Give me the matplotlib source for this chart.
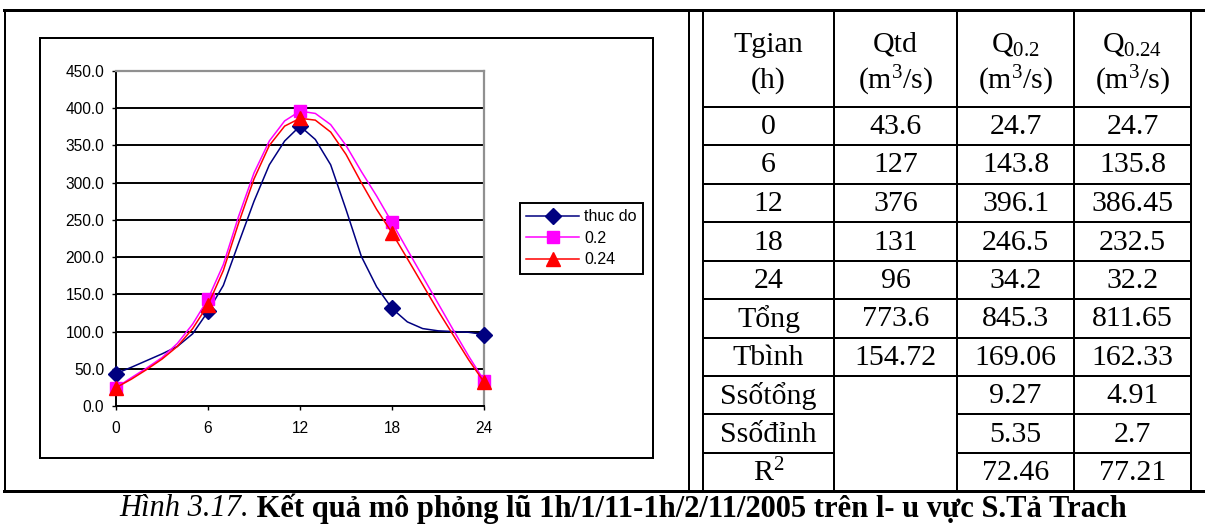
import matplotlib
matplotlib.use('Agg')
import matplotlib.pyplot as plt
from matplotlib.lines import Line2D

# Du lieu doc tu hinh (gio, luu luong m3/s)
hours = list(range(25))
thuc_do = [43.6, 52, 61, 70, 80, 97, 127, 162, 219, 275, 324, 356, 376,
           358, 324, 264, 201, 160, 131, 113, 104, 101, 100, 99, 96]
q_02 = [24.7, 38, 51, 65, 84, 110, 143.8, 190, 255, 313, 356, 383, 396.1,
        393, 378, 350, 315, 282, 246.5, 210, 174, 138, 102, 67, 34.2]
q_024 = [24.7, 36, 49, 63, 80, 104, 135.8, 182, 246, 305, 350, 376, 386.45,
         384, 368, 338, 300, 264, 232.5, 198, 163, 128, 95, 62, 32.2]
series_labels = ['thuc do', '0.2', '0.24']
x_ticks = [0, 6, 12, 18, 24]
y_ticks = [0, 50, 100, 150, 200, 250, 300, 350, 400, 450]

header_top = ['Tgian', 'Qtd', r'$\mathregular{Q_{0.2}}$', r'$\mathregular{Q_{0.24}}$']
header_bottom = ['(h)', r'$\mathregular{(m^3/s)}$', r'$\mathregular{(m^3/s)}$', r'$\mathregular{(m^3/s)}$']
row_labels = ['0', '6', '12', '18', '24', 'Tổng', 'Tbình', 'Ssốtổng', 'Ssốđỉnh',
              r'$\mathregular{R^2}$']
col_qtd = ['43.6', '127', '376', '131', '96', '773.6', '154.72', '', '', '']
col_q02 = ['24.7', '143.8', '396.1', '246.5', '34.2', '845.3', '169.06', '9.27', '5.35', '72.46']
col_q024 = ['24.7', '135.8', '386.45', '232.5', '32.2', '811.65', '162.33', '4.91', '2.7', '77.21']

caption_italic = 'Hình 3.17.'
caption_bold = ' Kết quả mô phỏng lũ 1h/1/11-1h/2/11/2005 trên l- u vực S.Tả Trach'

W, H = 1205, 524
fig = plt.figure(figsize=(W / 100, H / 100), dpi=100)
serif = ['Liberation Serif', 'DejaVu Serif']
sans = ['Liberation Sans', 'DejaVu Sans']


def fx(px):
    return px / W


def fy(py):
    return 1 - py / H


def hline(y, x0, x1, lw=2.0):
    fig.add_artist(Line2D([fx(x0), fx(x1)], [fy(y), fy(y)], color='black',
                          lw=lw * 0.72, solid_capstyle='projecting'))


def vline(x, y0, y1, lw=2.0):
    fig.add_artist(Line2D([fx(x), fx(x)], [fy(y0), fy(y1)], color='black',
                          lw=lw * 0.72, solid_capstyle='projecting'))


# Khung ngoai
hline(10, 4, 1205, lw=3)
hline(491, 4, 1205, lw=3)
vline(5, 10, 491)
vline(689, 10, 491)

# Khung bieu do
hline(38, 40, 653)
hline(458, 40, 653)
vline(40, 38, 458)
vline(653, 38, 458)

# Do thi
ax = fig.add_axes([fx(116), fy(406), fx(484) - fx(116), fy(71) - fy(406)])
ax.plot(hours, thuc_do, color='#000080', lw=1.1, marker='D', ms=8.5,
        markevery=6, clip_on=False, label=series_labels[0], zorder=3)
ax.plot(hours, q_02, color='#ff00ff', lw=1.1, marker='s', ms=8.5,
        markevery=6, clip_on=False, label=series_labels[1], zorder=4)
ax.plot(hours, q_024, color='#ff0000', lw=1.1, marker='^', ms=10,
        markevery=6, clip_on=False, label=series_labels[2], zorder=5)
ax.set_xlim(0, 24)
ax.set_ylim(0, 450)
ax.set_xticks(x_ticks)
ax.set_yticks(y_ticks)
ax.set_yticklabels([f'{v:.1f}' for v in y_ticks])
ax.yaxis.grid(True, color='black', lw=1.4)
ax.set_axisbelow(True)
for side in ['left', 'bottom']:
    ax.spines[side].set_color('black')
    ax.spines[side].set_linewidth(1.4)
for side in ['top', 'right']:
    ax.spines[side].set_color('#909090')
    ax.spines[side].set_linewidth(1.6)
ax.tick_params(axis='y', direction='out', length=3, width=1, pad=5.5)
ax.tick_params(axis='x', direction='out', length=3, width=1, pad=7.5)
for lab in ax.get_xticklabels() + ax.get_yticklabels():
    lab.set_family(sans)
    lab.set_fontsize(11.2)

leg = ax.legend(loc='upper left', bbox_to_anchor=(fx(520), fy(203)),
                bbox_transform=fig.transFigure, borderaxespad=0, fancybox=False,
                edgecolor='black', framealpha=1, prop={'family': sans, 'size': 11.5},
                handlelength=3.3, handletextpad=0.3, borderpad=0.4, labelspacing=0.4)
leg.get_frame().set_linewidth(1.4)

# Bang ket qua
col_x = [703, 834, 957, 1074, 1191]
row_y = [10, 107, 145, 184, 222, 261, 299, 338, 376, 414, 453, 491]
for x in col_x:
    vline(x, 10, 491)
for i, y in enumerate(row_y[1:-1], start=1):
    if i >= 9:
        hline(y, col_x[0], col_x[1])
        hline(y, col_x[2], col_x[4])
    else:
        hline(y, col_x[0], col_x[4])

fs = 21.5
for j in range(4):
    cx = (col_x[j] + col_x[j + 1]) / 2
    fig.text(fx(cx), fy(45), header_top[j], ha='center', va='center',
             family=serif, fontsize=fs)
    fig.text(fx(cx), fy(81), header_bottom[j], ha='center', va='center',
             family=serif, fontsize=fs)

columns = [row_labels, col_qtd, col_q02, col_q024]
for j, col in enumerate(columns):
    cx = (col_x[j] + col_x[j + 1]) / 2
    for i, val in enumerate(col):
        cy = (row_y[i + 1] + row_y[i + 2]) / 2
        fig.text(fx(cx), fy(cy + 1), val, ha='center', va='center',
                 family=serif, fontsize=fs)

# Chu thich hinh
cap1 = fig.text(0, fy(516.5), caption_italic, style='italic', family=serif,
                fontsize=22, va='baseline')
cap2 = fig.text(0, fy(516.5), caption_bold, weight='bold', family=serif,
                fontsize=22, va='baseline')
fig.canvas.draw()
r = fig.canvas.get_renderer()
w1 = cap1.get_window_extent(r).width
w2 = cap2.get_window_extent(r).width
x0 = 623 - (w1 + w2) / 2
cap1.set_x(fx(x0))
cap2.set_x(fx(x0 + w1))

fig.savefig('out.png', dpi=100)
